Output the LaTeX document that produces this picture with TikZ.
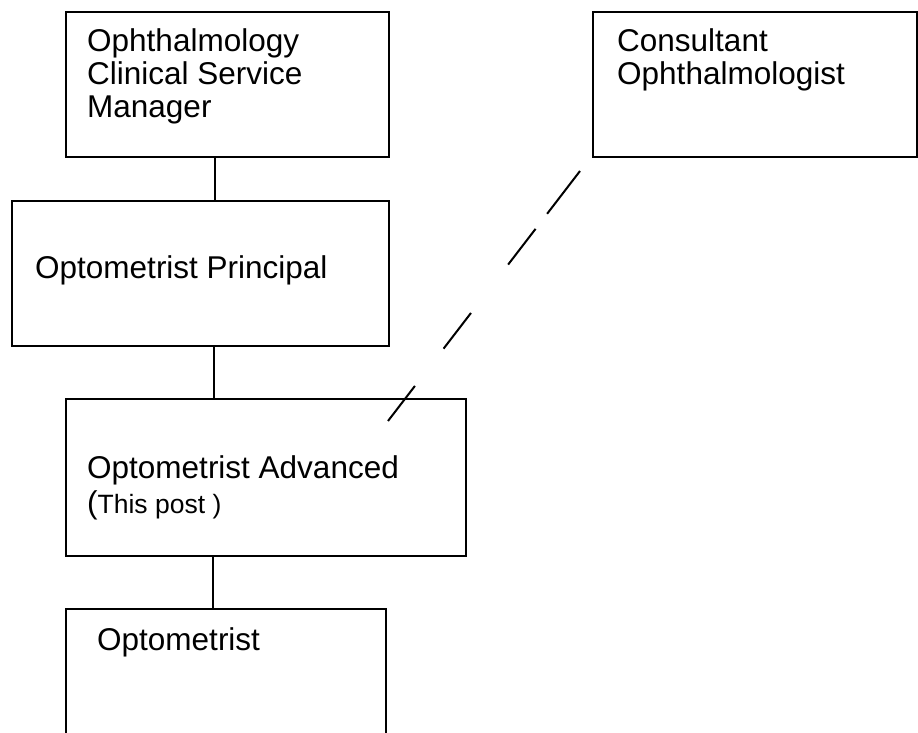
\documentclass[tikz,border=0pt]{standalone}
\usepackage{fontspec}
\setmainfont{Liberation Sans}
\begin{document}
\begin{tikzpicture}[x=1pt,y=-1pt,
  box/.style={draw,line width=2pt,anchor=north west,inner sep=0pt,outer sep=0pt},
  lbl/.style={anchor=base west,inner sep=0pt,font=\fontsize{31.5}{33.5}\selectfont},
  link/.style={line width=2pt}]
\useasboundingbox (0,0) rectangle (918,733);
\clip (0,0) rectangle (918,733);
% boxes
\node[box,minimum width=323pt,minimum height=145pt] (b1) at (66,12) {};
\node[box,minimum width=324pt,minimum height=145pt] (b2) at (593,12) {};
\node[box,minimum width=377pt,minimum height=145pt] (b3) at (12,201) {};
\node[box,minimum width=400pt,minimum height=157pt] (b4) at (66,399) {};
\node[box,minimum width=320pt,minimum height=160pt] (b5) at (66,609) {};
% texts
\node[lbl] (t1a) at (87,52) {Ophthalmology};
\node[lbl] (t1b) at (87,85) {Clinical Service};
\node[lbl] (t1c) at (87,118) {Manager};
\node[lbl] (t2a) at (617,52) {Consultant};
\node[lbl] (t2b) at (617,85) {Ophthalmologist};
\node[lbl] (t3) at (35,278) {Optometrist Principal};
\node[lbl] (t4) at (87,478) {Optometrist Advanced};
\node[lbl] (t4b) at (87,513) {(\fontsize{26.5}{30}\selectfont This post )};
\node[lbl] (t5) at (97,650) {Optometrist};
% connectors
\coordinate (x1) at (215,0);
\coordinate (x2) at (214,0);
\coordinate (x3) at (213,0);
\draw[link] (b1.south -| x1) -- (b3.north -| x1);
\draw[link] (b3.south -| x2) -- (b4.north -| x2);
\draw[link] (b4.south -| x3) -- (b5.north -| x3);
\coordinate (d1) at (580,171);
\coordinate (d2) at (388,421);
\draw[link,dash pattern=on 54pt off 19pt on 45pt off 61pt on 45pt off 47pt on 60pt off 40pt] (d1) -- (d2);
\end{tikzpicture}
\end{document}
